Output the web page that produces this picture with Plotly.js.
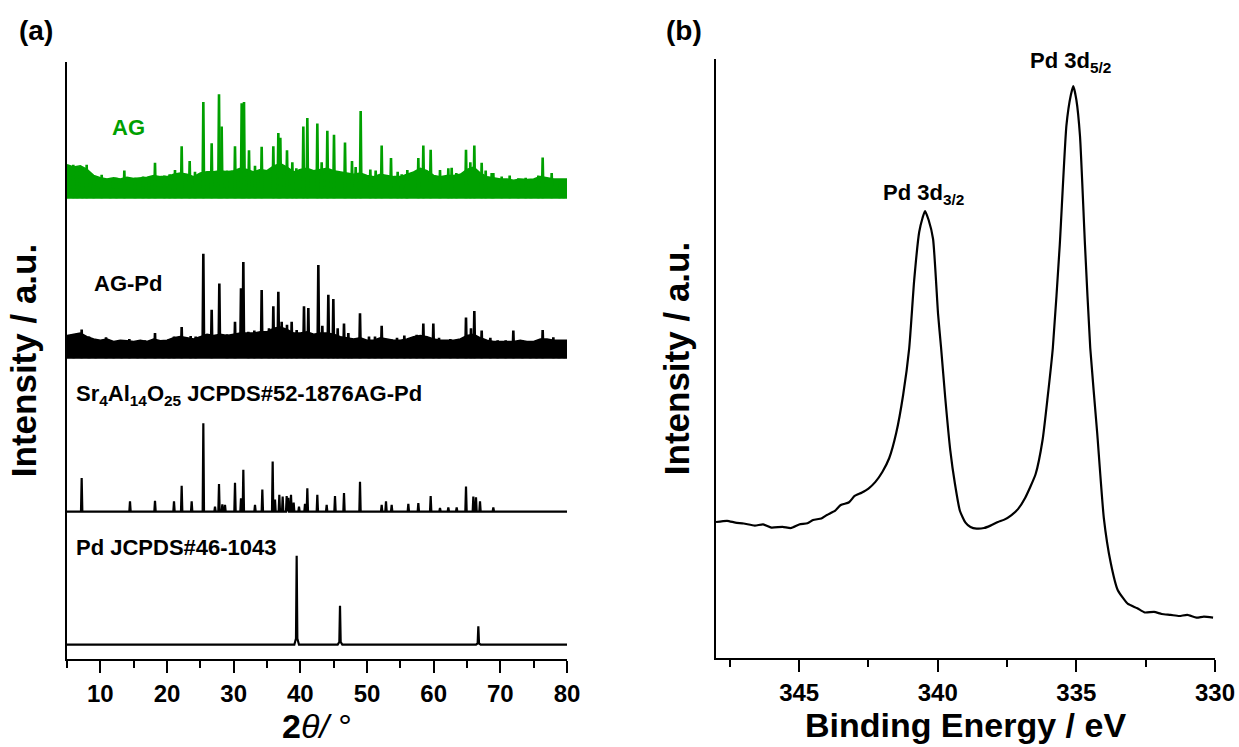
<!DOCTYPE html>
<html>
<head>
<meta charset="utf-8">
<script src="https://cdn.plot.ly/plotly-3.0.1.min.js"></script>
<style>html,body{margin:0;padding:0;background:#fff}#chart{width:1239px;height:747px}</style>
</head>
<body>
<div id="chart"></div>
<script>
// ---------------- Data (a): XRD, 2θ in degrees, intensities in arbitrary units ----------------
// Noise band top envelope (above each pattern's baseline), sampled every degree 5..80
const envX = [5,6,7,8,9,10,11,12,13,14,15,16,17,18,19,20,21,22,23,24,25,26,27,28,29,30,31,32,33,34,35,36,37,38,39,40,41,42,43,44,45,46,47,48,49,50,51,52,53,54,55,56,57,58,59,60,61,62,63,64,65,66,67,68,69,70,71,72,73,74,75,76,77,78,79,80];
const agEnv = [5.6,5.2,5.4,4.8,3.8,3.4,3.2,3.4,3.2,3.5,3.3,3.4,3.5,3.8,3.6,3.6,4.0,4.2,4.0,3.6,4.2,4.4,4.4,4.6,4.4,4.6,5.0,4.8,4.4,4.8,4.6,5.4,5.8,5.2,4.4,4.8,5.0,4.6,4.8,5.0,4.6,4.4,4.2,4.0,4.2,3.8,3.6,4.0,3.8,3.6,3.6,4.0,4.4,5.0,4.6,3.8,3.6,3.8,3.8,4.0,4.8,5.2,4.2,3.6,3.4,3.2,3.2,3.0,3.2,3.1,3.2,3.6,3.4,3.2,3.2,3.2];
const agPdEnv = [3.8,4.0,4.2,3.6,3.2,3.0,3.2,2.8,3.0,2.9,2.8,3.0,2.8,3.2,2.9,3.0,3.4,3.6,3.4,3.2,3.6,4.0,3.8,4.0,3.8,4.0,4.2,4.2,4.2,4.4,4.4,5.0,5.2,4.8,4.2,4.2,4.4,4.0,4.2,4.2,4.0,3.6,3.4,3.2,3.4,3.0,3.0,3.4,3.2,3.0,3.0,3.2,3.6,3.8,3.6,3.2,3.0,3.0,3.0,3.2,3.8,4.0,3.4,3.0,2.8,2.8,2.8,2.8,3.0,2.8,2.8,3.2,3.2,3.0,3.0,3.0];

// AG peaks
const agPos = [5.95,6.5,7.3,7.95,9.0,10.2,11.5,12.4,13.6,15.2,16.4,17.3,18.2,19.6,20.4,21.2,22.2,23.4,24.2,25.45,26.7,27.8,28.2,29.0,30.2,31.2,31.55,32.3,33.2,34.2,35.95,36.7,37.0,38.0,38.8,39.4,40.45,41.05,42.55,43.2,44.05,45.05,46.7,47.75,48.3,49.05,50.5,51.3,52.2,53.6,54.6,55.2,55.9,56.05,57.7,58.45,59.55,60.95,62.2,62.7,63.4,64.85,65.5,66.1,67.2,67.8,68.7,68.95,70.2,71.4,72.7,73.8,74.6,75.7,76.35,77.7,78.9,79.5];
const agInt = [5.6,5.0,4.8,5.6,3.6,3.9,3.2,3.4,4.6,3.4,3.6,3.4,5.9,3.8,4.0,4.7,8.7,6.2,4.4,16.1,9.2,17.4,12.0,4.6,8.7,15.9,16.1,8.0,5.4,8.6,8.7,10.9,10.1,8.0,6.0,5.0,12.0,13.4,12.5,6.0,11.3,10.6,9.3,6.2,5.2,14.6,4.8,4.6,8.8,6.7,4.4,4.0,4.0,4.7,6.7,8.8,8.1,4.7,5.0,5.1,4.2,8.1,6.0,8.8,5.9,4.6,4.2,4.2,3.6,3.8,3.3,3.4,3.2,3.8,6.8,4.2,3.0,3.2];

// AG-Pd peaks
const agPdPos = [6.0,7.2,8.3,9.3,10.85,12.0,13.2,14.35,15.6,16.7,18.2,19.4,20.3,21.05,22.2,23.55,24.3,25.45,26.7,27.85,29.0,30.2,31.1,31.45,32.2,33.1,34.2,35.3,35.95,36.7,37.2,38.0,38.7,39.45,40.55,41.2,42.7,43.3,44.2,44.95,45.6,46.55,47.2,47.7,48.95,50.3,51.2,52.2,53.7,54.5,55.6,56.5,57.45,58.45,59.95,60.8,62.5,63.6,64.85,65.6,66.1,67.2,68.5,69.6,70.8,71.95,73.3,74.5,75.4,76.35,77.95,78.8,79.6];
const agPdInt = [3.8,4.8,3.6,3.0,3.5,2.8,2.9,3.2,2.8,3.0,4.2,3.0,3.2,3.6,5.2,3.7,3.6,17.5,8.1,12.5,4.0,6.1,11.7,16.1,4.4,4.6,11.4,5.0,8.7,11.1,6.1,5.6,6.1,4.7,8.7,8.4,15.6,5.4,10.6,9.9,5.0,5.8,4.2,3.3,7.5,3.6,3.6,5.4,3.1,3.4,3.8,3.2,3.9,5.8,5.8,3.4,3.2,3.2,6.8,5.0,7.9,4.6,3.4,3.0,3.0,4.6,3.0,2.8,3.0,4.7,3.5,3.0,2.8];

// Sr4Al14O25 JCPDS#52-1876 reference peaks
const srPos = [7.2,14.45,18.2,21.05,22.2,23.7,25.45,27.2,27.8,28.3,28.7,30.2,31.1,31.45,33.2,34.3,35.85,36.2,36.85,37.35,37.95,38.2,38.6,39.0,39.8,40.7,41.05,42.55,43.95,45.2,46.55,48.95,52.2,52.85,53.7,56.2,57.7,59.55,60.95,62.2,63.45,64.85,65.95,66.35,66.95,68.95];
const srInt = [5.6,1.7,1.8,1.7,4.3,1.7,14.8,0.8,4.6,1.2,1.1,4.8,2.2,7.0,1.1,3.7,8.4,2.0,2.8,2.5,2.6,2.3,2.8,1.5,0.8,1.3,3.9,2.8,1.1,2.6,3.1,5.0,1.1,1.7,1.1,1.3,1.4,2.6,0.6,0.7,0.7,4.2,2.5,2.4,1.7,0.7];

// Pd JCPDS#46-1043 reference peaks
const pdPos = [39.45,45.95,66.7];
const pdInt = [14.9,6.5,3.1];

// ---------------- Data (b): XPS Pd 3d ----------------
const beX = [348.0,347.6,347.3,347.0,346.6,346.3,346.0,345.6,345.3,345.0,344.7,344.5,344.2,344.0,343.7,343.5,343.2,343.0,342.75,342.5,342.25,342.0,341.75,341.5,341.25,341.03,340.85,340.67,340.55,340.46,340.33,340.17,339.99,339.88,339.73,339.55,339.38,339.2,339.0,338.82,338.6,338.33,338.1,337.83,337.6,337.34,337.1,336.85,336.47,336.22,336.04,335.85,335.6,335.36,335.2,335.11,335.0,334.87,334.69,334.5,334.25,334.01,333.76,333.51,333.3,333.14,332.8,332.53,332.2,331.92,331.6,331.29,331.0,330.67,330.4,330.07];
const beY = [22.70,22.9,22.6,22.45,22.1,22.3,21.77,21.9,21.7,22.29,22.5,23.04,23.3,23.87,24.6,25.54,26.0,27.05,27.6,28.28,29.4,31.05,33.39,37.56,43.91,51.75,63.11,71.12,73.46,74.62,73.12,69.95,57.43,51.75,43.41,34.72,29.05,24.54,22.6,21.87,21.6,21.70,22.1,22.70,23.1,23.87,24.9,26.71,30.72,36.39,43.41,51.75,68.95,88.88,93.99,95.46,93.16,87.15,68.95,51.75,37.61,23.37,15.86,11.35,9.9,9.02,8.3,7.60,7.7,7.35,7.2,7.01,7.2,6.73,6.9,6.73];

// ---------------- Layout constants ----------------
const W = 1239, H = 747;
const GREEN = '#00a000';
const FONT = 'Liberation Sans, Arial, sans-serif';
// baselines of stacked XRD patterns (axis units)
const OFF_AG = 77.2, OFF_AGPD = 50.4, OFF_SR = 24.7, OFF_PD = 2.4;

function spikes(pos, h, off, w) {
  const xs = [], ys = [];
  pos.forEach((p, i) => { xs.push(p - w, p, p + w, null); ys.push(off, off + h[i], off, null); });
  return {xs, ys};
}
function stickPattern(pos, h, off, w, foot) {
  const idx = pos.map((p, i) => i).sort((a, b) => pos[a] - pos[b]);
  const xs = [5], ys = [off];
  idx.forEach(i => {
    const p = pos[i];
    if (foot) {
      xs.push(p - 0.35, p - 0.1, p, p + 0.1, p + 0.35);
      ys.push(off, off + 0.07 * h[i], off + h[i], off + 0.07 * h[i], off);
    } else {
      xs.push(p - w, p, p + w);
      ys.push(off, off + h[i], off);
    }
  });
  xs.push(80); ys.push(off);
  return {xs, ys};
}

const traces = [];
function band(env, off, color) {
  traces.push({x: [envX[0], envX[envX.length - 1]], y: [off, off], mode: 'lines', line: {color, width: 1.5}, xaxis: 'x', yaxis: 'y', hoverinfo: 'skip'});
  traces.push({x: envX, y: env.map(v => off + v), mode: 'lines', fill: 'tonexty', fillcolor: color, line: {color, width: 1.5}, xaxis: 'x', yaxis: 'y', hoverinfo: 'skip'});
}
band(agEnv, OFF_AG, GREEN);
let s = spikes(agPos, agInt, OFF_AG, 0.12);
traces.push({x: s.xs, y: s.ys, mode: 'lines', line: {color: GREEN, width: 2.6}, xaxis: 'x', yaxis: 'y', name: 'AG'});
band(agPdEnv, OFF_AGPD, '#000');
s = spikes(agPdPos, agPdInt, OFF_AGPD, 0.12);
traces.push({x: s.xs, y: s.ys, mode: 'lines', line: {color: '#000', width: 2.6}, xaxis: 'x', yaxis: 'y', name: 'AG-Pd'});
s = stickPattern(srPos, srInt, OFF_SR, 0.1, false);
traces.push({x: s.xs, y: s.ys, mode: 'lines', line: {color: '#000', width: 2.2}, xaxis: 'x', yaxis: 'y', name: 'Sr4Al14O25'});
s = stickPattern(pdPos, pdInt, OFF_PD, 0.1, true);
traces.push({x: s.xs, y: s.ys, mode: 'lines', line: {color: '#000', width: 2.2}, xaxis: 'x', yaxis: 'y', name: 'Pd'});

traces.push({x: beX, y: beY, mode: 'lines', line: {color: '#000', width: 2.2, shape: 'spline', smoothing: 0.5}, xaxis: 'x2', yaxis: 'y2', name: 'XPS'});

const px = v => v / W, py = v => 1 - v / H;
const tickFont = {family: FONT, size: 24, color: '#000', weight: 'bold'};

const layout = {
  width: W, height: H,
  margin: {l: 0, r: 0, t: 0, b: 0},
  paper_bgcolor: '#fff', plot_bgcolor: '#fff',
  showlegend: false, hovermode: false,
  font: {family: FONT, color: '#000'},
  xaxis: {
    domain: [px(67), px(567)], range: [5, 80], anchor: 'y',
    tickmode: 'linear', tick0: 10, dtick: 10,
    ticks: 'outside', ticklen: 12, tickwidth: 2, tickcolor: '#000',
    minor: {ticks: 'outside', ticklen: 7, tickwidth: 2, tickcolor: '#000', tick0: 5, dtick: 5},
    showline: true, linewidth: 2, linecolor: '#000', showgrid: false, zeroline: false,
    tickfont: tickFont,
    title: {text: '<b>2</b><i>θ</i><i>/</i> °', font: {family: FONT, size: 34, color: '#000'}, standoff: 4}
  },
  yaxis: {
    domain: [py(659), py(62)], range: [0, 100], anchor: 'x',
    showline: true, linewidth: 2, linecolor: '#000', showgrid: false, zeroline: false,
    ticks: '', showticklabels: false,
    title: {text: 'Intensity / a.u.', font: {family: FONT, size: 35, color: '#000', weight: 'bold'}, standoff: 18}
  },
  xaxis2: {
    domain: [px(716), px(1215)], range: [348, 330], anchor: 'y2',
    tickmode: 'linear', tick0: 330, dtick: 5,
    ticks: 'outside', ticklen: 12, tickwidth: 2, tickcolor: '#000',
    minor: {ticks: 'outside', ticklen: 7, tickwidth: 2, tickcolor: '#000', tick0: 330, dtick: 2.5},
    showline: true, linewidth: 2, linecolor: '#000', showgrid: false, zeroline: false,
    tickfont: tickFont,
    title: {text: 'Binding Energy / eV', font: {family: FONT, size: 34, color: '#000', weight: 'bold'}, standoff: 4}
  },
  yaxis2: {
    domain: [py(658), py(59)], range: [0, 100], anchor: 'x2',
    showline: true, linewidth: 2, linecolor: '#000', showgrid: false, zeroline: false,
    ticks: '', showticklabels: false,
    title: {text: 'Intensity / a.u.', font: {family: FONT, size: 35, color: '#000', weight: 'bold'}, standoff: 14}
  },
  annotations: [
    {text: '<b>(a)</b>', x: px(36), y: py(31), xref: 'paper', yref: 'paper', xanchor: 'center', yanchor: 'middle', showarrow: false, font: {size: 28, family: FONT}},
    {text: '<b>(b)</b>', x: px(684), y: py(31), xref: 'paper', yref: 'paper', xanchor: 'center', yanchor: 'middle', showarrow: false, font: {size: 28, family: FONT}},
    {text: '<b>AG</b>', x: px(128), y: py(127), xref: 'paper', yref: 'paper', xanchor: 'center', yanchor: 'middle', showarrow: false, font: {size: 22, family: FONT, color: GREEN}},
    {text: '<b>AG-Pd</b>', x: px(128), y: py(283), xref: 'paper', yref: 'paper', xanchor: 'center', yanchor: 'middle', showarrow: false, font: {size: 22, family: FONT}},
    {text: '<b>Sr<sub>4</sub>Al<sub>14</sub>O<sub>25</sub> JCPDS#52-1876AG-Pd</b>', x: px(74), y: py(395), xref: 'paper', yref: 'paper', xanchor: 'left', yanchor: 'middle', showarrow: false, font: {size: 22, family: FONT}},
    {text: '<b>Pd JCPDS#46-1043</b>', x: px(74), y: py(547), xref: 'paper', yref: 'paper', xanchor: 'left', yanchor: 'middle', showarrow: false, font: {size: 22, family: FONT}},
    {text: '<b>Pd 3d<sub>3/2</sub></b>', x: px(923), y: py(194), xref: 'paper', yref: 'paper', xanchor: 'center', yanchor: 'middle', showarrow: false, font: {size: 22, family: FONT}},
    {text: '<b>Pd 3d<sub>5/2</sub></b>', x: px(1070), y: py(62), xref: 'paper', yref: 'paper', xanchor: 'center', yanchor: 'middle', showarrow: false, font: {size: 22, family: FONT}}
  ]
};

Plotly.newPlot('chart', traces, layout, {staticPlot: true, displayModeBar: false});
</script>
</body>
</html>
